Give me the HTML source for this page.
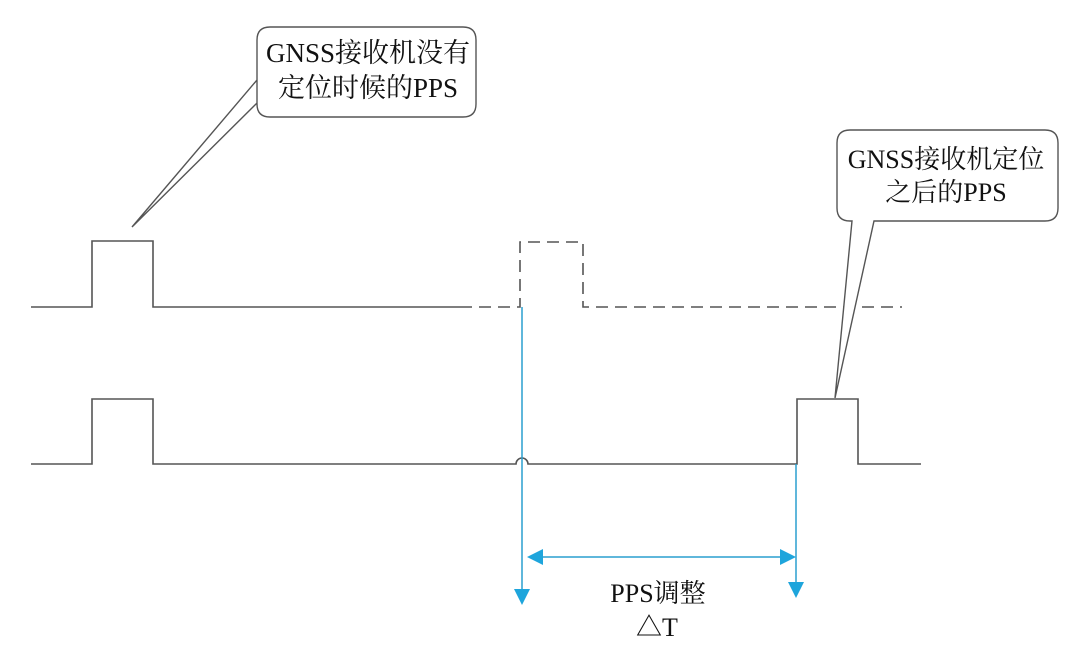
<!DOCTYPE html>
<html><head><meta charset="utf-8"><style>
html,body{margin:0;padding:0;background:#fff}
svg{display:block}
text{font-family:"Liberation Serif","Noto Serif CJK SC",serif;fill:#111}
</style></head><body>
<svg width="1080" height="661" viewBox="0 0 1080 661" xmlns="http://www.w3.org/2000/svg">
<g fill="none" stroke="#555" stroke-width="1.6">
<path d="M31 307 H92 V241 H153 V307 H460"/>
<path d="M460 307 H520 V242 H583 V307 H902" stroke-dasharray="12 7"/>
<path d="M31 464 H92 V399 H153 V464 H516 A6 6 0 0 1 528 464 H797 V399 H858 V464 H921"/>
</g>
<path d="M257 80 V40 Q257 27 270 27 H463 Q476 27 476 40 V104 Q476 117 463 117 H270 Q257 117 257 104 Z M257 80 L132 227 L257 103" fill="#fff" stroke="#555" stroke-width="1.4"/>
<path d="M852 221 H850 Q837 221 837 208 V143 Q837 130 850 130 H1045 Q1058 130 1058 143 V208 Q1058 221 1045 221 H874 L835 398 Z" fill="#fff" stroke="#555" stroke-width="1.4"/>
<text x="368" y="62" font-size="27" text-anchor="middle">GNSS接收机没有</text>
<text x="368" y="97" font-size="27" text-anchor="middle">定位时候的PPS</text>
<text x="946" y="168" font-size="26" text-anchor="middle">GNSS接收机定位</text>
<text x="946" y="201" font-size="26" text-anchor="middle">之后的PPS</text>
<g stroke="#2a9fcf" stroke-width="1.5" fill="#1ea5dc">
<line x1="522" y1="307" x2="522" y2="592"/>
<line x1="796" y1="464" x2="796" y2="585"/>
<line x1="540" y1="557" x2="780" y2="557"/>
<polygon points="514,589 530,589 522,605" stroke="none"/>
<polygon points="788,582 804,582 796,598" stroke="none"/>
<polygon points="527,557 543,549 543,565" stroke="none"/>
<polygon points="796,557 780,549 780,565" stroke="none"/>
</g>
<text x="658" y="602" font-size="26" text-anchor="middle">PPS调整</text>
<text x="657" y="636" font-size="26" text-anchor="middle">△T</text>
</svg>
</body></html>
